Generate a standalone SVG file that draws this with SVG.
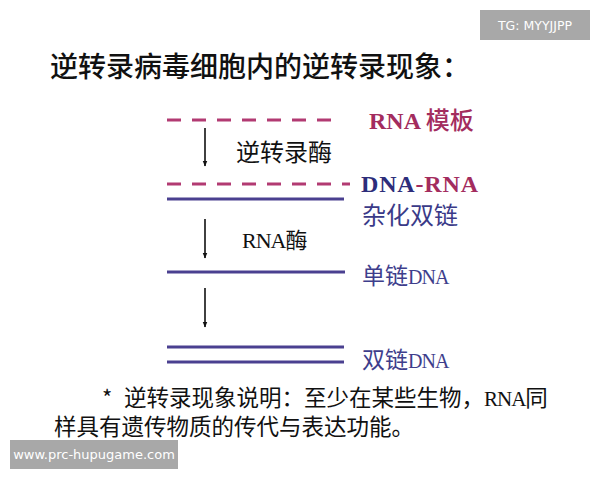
<svg xmlns="http://www.w3.org/2000/svg" width="600" height="480" viewBox="0 0 600 480">
<defs>
<style>
.cjk{font-family:"Noto Sans CJK SC","Noto Sans CJK JP",sans-serif;}
.dash{stroke:#b23a72;stroke-width:3;stroke-dasharray:14 11;fill:none;}
.solid{stroke:#4a4090;stroke-width:3;fill:none;}
.arrow{stroke:#111;stroke-width:1.6;fill:none;}
.wm{fill:#a8a8a8;}
.wmt{fill:#fff;font-family:"DejaVu Sans",sans-serif;}
.num{font-family:"Liberation Serif",serif;letter-spacing:-1px;}
</style>
<marker id="ah" viewBox="0 0 10 10" refX="9" refY="5" markerWidth="6" markerHeight="6" orient="auto" markerUnits="userSpaceOnUse">
<path d="M0,1 L10,5 L0,9 Z" fill="#111"/>
</marker>
</defs>
<rect width="600" height="480" fill="#fff"/>
<g id="title"><text x="50" y="77" class="cjk" font-size="28" font-weight="500" fill="#111">逆转录病毒细胞内的逆转录现象：</text></g>
<g id="connectors">
<line class="arrow" x1="205" y1="128" x2="205" y2="166" marker-end="url(#ah)"/>
<line class="arrow" x1="205" y1="219" x2="205" y2="258" marker-end="url(#ah)"/>
<line class="arrow" x1="205" y1="288" x2="205" y2="327" marker-end="url(#ah)"/>
</g>
<g id="rna-template">
<line class="dash" x1="167" y1="120" x2="335" y2="120"/>
<text x="369" y="129" font-family="Liberation Serif,serif" font-weight="bold" font-size="24" fill="#a32c5e">RNA <tspan class="cjk" font-weight="500" font-size="24">模板</tspan></text>
</g>
<g id="enzyme1"><text x="236" y="161" class="cjk" font-size="24" fill="#111">逆转录酶</text></g>
<g id="hybrid">
<line class="dash" x1="167" y1="184" x2="350" y2="184"/>
<line class="solid" x1="167" y1="199" x2="344" y2="199"/>
<text x="361" y="192" font-family="Liberation Serif,serif" font-weight="bold" font-size="24" fill="#2d2d7a" textLength="117">DNA<tspan fill="#a32c5e">-RNA</tspan></text>
<text x="362" y="224" class="cjk" font-size="24" fill="#3a3a88">杂化双链</text>
</g>
<g id="enzyme2"><text x="242" y="248" class="num" font-size="22" fill="#111">RNA<tspan class="cjk" font-size="22" letter-spacing="0">酶</tspan></text></g>
<g id="ssdna">
<line class="solid" x1="167" y1="272" x2="345" y2="272"/>
<text x="362" y="284" class="cjk" font-size="23" fill="#3e3e8c">单链<tspan class="num" font-size="20">DNA</tspan></text>
</g>
<g id="dsdna">
<line class="solid" x1="167" y1="347" x2="344" y2="347"/>
<line class="solid" x1="167" y1="362" x2="344" y2="362"/>
<text x="362" y="368" class="cjk" font-size="23" fill="#3e3e8c">双链<tspan class="num" font-size="20">DNA</tspan></text>
</g>
<g id="note">
<text x="102" y="406" class="cjk" font-size="22" fill="#111">*</text>
<text x="124" y="406" class="cjk" font-size="22.5" fill="#111">逆转录现象说明：至少在某些生物，<tspan class="num" font-size="21">RNA</tspan>同</text>
<text x="54" y="435" class="cjk" font-size="22.5" fill="#111">样具有遗传物质的传代与表达功能。</text>
</g>
<g id="wm-top"><rect class="wm" x="480" y="10" width="110" height="30"/><text x="535" y="30" class="wmt" font-size="12.5" text-anchor="middle">TG: MYYJJPP</text></g>
<g id="wm-bottom"><rect class="wm" x="10" y="440" width="168" height="29"/><text x="94" y="459" class="wmt" font-size="13" text-anchor="middle">www.prc-hupugame.com</text></g>
</svg>
